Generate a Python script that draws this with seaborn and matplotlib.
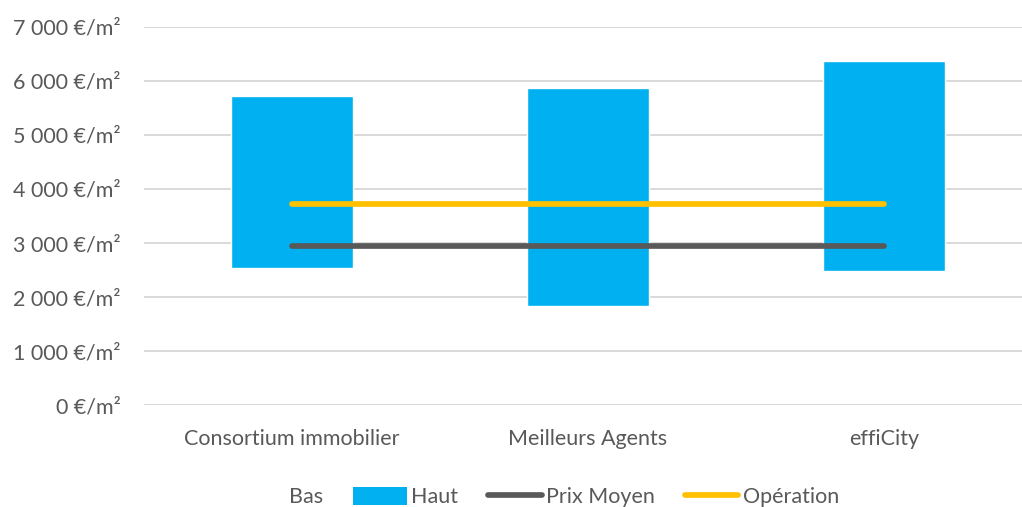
import matplotlib
matplotlib.use("Agg")
import matplotlib.pyplot as plt
import seaborn as sns
import pandas as pd
from matplotlib.patches import Patch
from matplotlib.lines import Line2D

categories = ["Consortium immobilier", "Meilleurs Agents", "effiCity"]
bas = [2545, 1840, 2480]
haut = [3175, 4030, 3890]
prix_moyen = [2950, 2950, 2950]
operation = [3720, 3720, 3720]
yticks = [0, 1000, 2000, 3000, 4000, 5000, 6000, 7000]

BLUE = "#00B0F0"
GRAY = "#595959"
YELLOW = "#FFC000"
GRID = "#D9D9D9"
TXT = "#595959"

sns.set_theme(style="white")
plt.rcParams["font.family"] = ["Lato", "DejaVu Sans"]

df = pd.DataFrame({"cat": categories, "bas": bas, "haut": haut,
                   "prix": prix_moyen, "op": operation})

fig = plt.figure(figsize=(10.22, 5.07), dpi=100)
ax = fig.add_axes([144/1022, 1 - 405.3/507, (1032-144)/1022, (405.3-26.7)/507])

for y in yticks:
    ax.axhline(y, color=GRID, lw=1.4, zorder=0)

sns.barplot(data=df, x="cat", y="haut", bottom=df["bas"], color=BLUE,
            width=0.41, saturation=1, ax=ax, zorder=2)
df["pos"] = range(len(categories))
sns.lineplot(data=df, x="pos", y="prix", color=GRAY, lw=4.1, ax=ax,
             solid_capstyle="round", zorder=3)
sns.lineplot(data=df, x="pos", y="op", color=YELLOW, lw=4.1, ax=ax,
             solid_capstyle="round", zorder=3)

ax.set_xlim(-0.5, 2.5)
ax.set_ylim(0, 7000)
ax.set_yticks(yticks)
ax.set_yticklabels([f"{v:,}".replace(",", " ") + " €/m²" for v in yticks])
ax.set_xticks(range(len(categories)))
ax.set_xticklabels(categories)
ax.set_xlabel("")
ax.set_ylabel("")
for s in ax.spines.values():
    s.set_visible(False)
ax.tick_params(axis="y", length=0, pad=17, labelsize=15.5, labelcolor=TXT)
ax.tick_params(axis="x", length=0, pad=17, labelsize=15.5, labelcolor=TXT)

handles = [
    Patch(facecolor="none", edgecolor="none", label="Bas"),
    Patch(facecolor=BLUE, edgecolor="none", label="Haut"),
    Line2D([0], [0], color=GRAY, lw=4.1, solid_capstyle="round", label="Prix Moyen"),
    Line2D([0], [0], color=YELLOW, lw=4.1, solid_capstyle="round", label="Opération"),
]
leg = fig.legend(handles=handles, loc="center", bbox_to_anchor=(0.5 + 24/1022, 1 - 497/507),
                 ncol=4, frameon=False, fontsize=15.5, handlelength=2.5,
                 handleheight=0.9, handletextpad=0.2, columnspacing=1.38,
                 labelcolor=TXT)

fig.savefig("out.png", dpi=100)
